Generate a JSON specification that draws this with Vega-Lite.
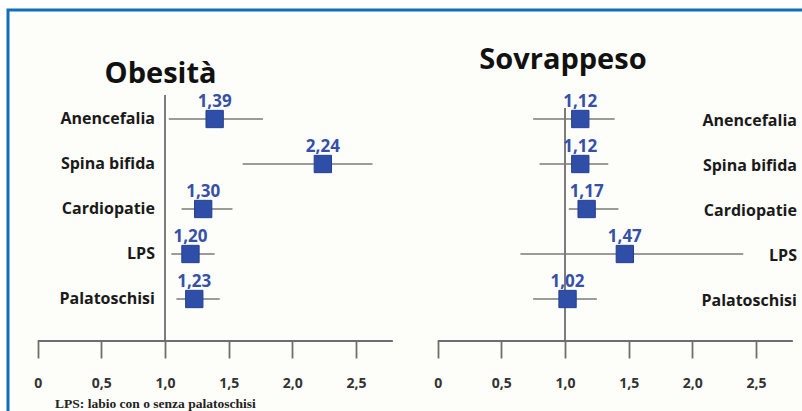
{
  "$schema": "https://vega.github.io/schema/vega-lite/v6.json",
  "width": 802,
  "height": 341,
  "autosize": "none",
  "padding": {"left": 0, "top": 0, "right": 0, "bottom": 70},
  "background": "#ffffff",
  "datasets": {
    "forest": [
      {"panel": "Obesità", "cat": "Anencefalia", "row": 1, "or": 1.39, "lo": 1.03, "hi": 1.77},
      {"panel": "Obesità", "cat": "Spina bifida", "row": 2, "or": 2.24, "lo": 1.61, "hi": 2.63},
      {"panel": "Obesità", "cat": "Cardiopatie", "row": 3, "or": 1.30, "lo": 1.13, "hi": 1.53},
      {"panel": "Obesità", "cat": "LPS", "row": 4, "or": 1.20, "lo": 1.05, "hi": 1.39},
      {"panel": "Obesità", "cat": "Palatoschisi", "row": 5, "or": 1.23, "lo": 1.09, "hi": 1.43},
      {"panel": "Sovrappeso", "cat": "Anencefalia", "row": 1, "or": 1.12, "lo": 0.75, "hi": 1.39},
      {"panel": "Sovrappeso", "cat": "Spina bifida", "row": 2, "or": 1.12, "lo": 0.80, "hi": 1.34},
      {"panel": "Sovrappeso", "cat": "Cardiopatie", "row": 3, "or": 1.17, "lo": 1.03, "hi": 1.42},
      {"panel": "Sovrappeso", "cat": "LPS", "row": 4, "or": 1.47, "lo": 0.65, "hi": 2.40},
      {"panel": "Sovrappeso", "cat": "Palatoschisi", "row": 5, "or": 1.02, "lo": 0.75, "hi": 1.25}
    ],
    "one": [{}]
  },
  "resolve": {"scale": {"x": "independent"}, "axis": {"x": "independent"}},
  "layer": [
    {
      "layer": [
        {
          "data": {"name": "one"},
          "mark": {"type": "rect", "fill": "#fdfdf9", "stroke": "#0e6fba", "strokeWidth": 3},
          "encoding": {
            "x": {"datum": -0.2333, "type": "quantitative", "scale": {"domain": [-0.2962, 6.0039], "nice": false, "zero": false}, "axis": {"orient": "bottom", "zindex": 1, "values": [0, 0.5, 1, 1.5, 2, 2.5], "format": ".1f", "labelExpr": "datum.value == 0 ? '0' : datum.label", "domain": false, "grid": false, "tickSize": 17, "tickWidth": 1.8, "tickColor": "#6e6e6e", "labelFont": "Open Sans", "labelFontWeight": "bold", "labelFontSize": 14, "labelColor": "#333333", "labelPadding": 18, "title": null, "labelFlush": false, "labelOverlap": false}},
            "x2": {"datum": 6.2},
            "y": {"datum": -1.4222, "type": "quantitative", "scale": {"domain": [-1.6444, 5.9333], "reverse": true, "nice": false, "zero": false}, "axis": null},
            "y2": {"datum": 8.5}
          }
        },
        {
          "data": {"name": "one"},
          "mark": {"type": "rule", "color": "#6e6e6e", "strokeWidth": 1.8},
          "encoding": {
            "x": {"datum": 1, "type": "quantitative", "scale": {"domain": [-0.2962, 6.0039], "nice": false, "zero": false}, "axis": {"orient": "bottom", "zindex": 1, "values": [0, 0.5, 1, 1.5, 2, 2.5], "format": ".1f", "labelExpr": "datum.value == 0 ? '0' : datum.label", "domain": false, "grid": false, "tickSize": 17, "tickWidth": 1.8, "tickColor": "#6e6e6e", "labelFont": "Open Sans", "labelFontWeight": "bold", "labelFontSize": 14, "labelColor": "#333333", "labelPadding": 18, "title": null, "labelFlush": false, "labelOverlap": false}},
            "y": {"datum": 0.467, "type": "quantitative", "scale": {"domain": [-1.6444, 5.9333], "reverse": true, "nice": false, "zero": false}, "axis": null},
            "y2": {"datum": 5.9333}
          }
        },
        {
          "data": {"name": "one"},
          "mark": {"type": "rule", "color": "#6e6e6e", "strokeWidth": 1.8},
          "encoding": {
            "x": {"datum": 0, "type": "quantitative", "scale": {"domain": [-0.2962, 6.0039], "nice": false, "zero": false}, "axis": {"orient": "bottom", "zindex": 1, "values": [0, 0.5, 1, 1.5, 2, 2.5], "format": ".1f", "labelExpr": "datum.value == 0 ? '0' : datum.label", "domain": false, "grid": false, "tickSize": 17, "tickWidth": 1.8, "tickColor": "#6e6e6e", "labelFont": "Open Sans", "labelFontWeight": "bold", "labelFontSize": 14, "labelColor": "#333333", "labelPadding": 18, "title": null, "labelFlush": false, "labelOverlap": false}},
            "x2": {"datum": 2.79},
            "y": {"datum": 5.9333, "type": "quantitative", "scale": {"domain": [-1.6444, 5.9333], "reverse": true, "nice": false, "zero": false}, "axis": null}
          }
        },
        {
          "data": {"name": "forest"},
          "transform": [{"filter": "datum.panel == 'Obesità'"}],
          "mark": {"type": "rule", "color": "#7a7a7a", "strokeWidth": 1.6},
          "encoding": {
            "x": {"field": "lo", "type": "quantitative", "scale": {"domain": [-0.2962, 6.0039], "nice": false, "zero": false}, "axis": {"orient": "bottom", "zindex": 1, "values": [0, 0.5, 1, 1.5, 2, 2.5], "format": ".1f", "labelExpr": "datum.value == 0 ? '0' : datum.label", "domain": false, "grid": false, "tickSize": 17, "tickWidth": 1.8, "tickColor": "#6e6e6e", "labelFont": "Open Sans", "labelFontWeight": "bold", "labelFontSize": 14, "labelColor": "#333333", "labelPadding": 18, "title": null, "labelFlush": false, "labelOverlap": false}},
            "x2": {"field": "hi"},
            "y": {"field": "row", "type": "quantitative", "scale": {"domain": [-1.6444, 5.9333], "reverse": true, "nice": false, "zero": false}, "axis": null}
          }
        },
        {
          "data": {"name": "forest"},
          "transform": [{"filter": "datum.panel == 'Obesità'"}],
          "mark": {"type": "point", "shape": "square", "filled": true, "size": 300, "color": "#2f4ea8", "stroke": "#243f8f", "strokeWidth": 1, "opacity": 1},
          "encoding": {
            "x": {"field": "or", "type": "quantitative", "scale": {"domain": [-0.2962, 6.0039], "nice": false, "zero": false}, "axis": {"orient": "bottom", "zindex": 1, "values": [0, 0.5, 1, 1.5, 2, 2.5], "format": ".1f", "labelExpr": "datum.value == 0 ? '0' : datum.label", "domain": false, "grid": false, "tickSize": 17, "tickWidth": 1.8, "tickColor": "#6e6e6e", "labelFont": "Open Sans", "labelFontWeight": "bold", "labelFontSize": 14, "labelColor": "#333333", "labelPadding": 18, "title": null, "labelFlush": false, "labelOverlap": false}},
            "y": {"field": "row", "type": "quantitative", "scale": {"domain": [-1.6444, 5.9333], "reverse": true, "nice": false, "zero": false}, "axis": null}
          }
        },
        {
          "data": {"name": "forest"},
          "transform": [{"filter": "datum.panel == 'Obesità'"}],
          "mark": {"type": "text", "font": "Open Sans", "fontWeight": "bold", "fontSize": 17, "color": "#3550a8", "baseline": "alphabetic", "align": "center", "dy": -12},
          "encoding": {
            "x": {"field": "or", "type": "quantitative", "scale": {"domain": [-0.2962, 6.0039], "nice": false, "zero": false}, "axis": {"orient": "bottom", "zindex": 1, "values": [0, 0.5, 1, 1.5, 2, 2.5], "format": ".1f", "labelExpr": "datum.value == 0 ? '0' : datum.label", "domain": false, "grid": false, "tickSize": 17, "tickWidth": 1.8, "tickColor": "#6e6e6e", "labelFont": "Open Sans", "labelFontWeight": "bold", "labelFontSize": 14, "labelColor": "#333333", "labelPadding": 18, "title": null, "labelFlush": false, "labelOverlap": false}},
            "y": {"field": "row", "type": "quantitative", "scale": {"domain": [-1.6444, 5.9333], "reverse": true, "nice": false, "zero": false}, "axis": null},
            "text": {"field": "or", "type": "quantitative", "format": ".2f"}
          }
        },
        {
          "data": {"name": "forest"},
          "transform": [{"filter": "datum.panel == 'Obesità'"}],
          "mark": {"type": "text", "font": "Open Sans", "fontWeight": "bold", "fontSize": 16, "color": "#1a1a1a", "baseline": "middle", "align": "right"},
          "encoding": {
            "x": {"datum": 0.921, "type": "quantitative", "scale": {"domain": [-0.2962, 6.0039], "nice": false, "zero": false}, "axis": {"orient": "bottom", "zindex": 1, "values": [0, 0.5, 1, 1.5, 2, 2.5], "format": ".1f", "labelExpr": "datum.value == 0 ? '0' : datum.label", "domain": false, "grid": false, "tickSize": 17, "tickWidth": 1.8, "tickColor": "#6e6e6e", "labelFont": "Open Sans", "labelFontWeight": "bold", "labelFontSize": 14, "labelColor": "#333333", "labelPadding": 18, "title": null, "labelFlush": false, "labelOverlap": false}},
            "y": {"field": "row", "type": "quantitative", "scale": {"domain": [-1.6444, 5.9333], "reverse": true, "nice": false, "zero": false}, "axis": null},
            "text": {"field": "cat", "type": "nominal"}
          }
        },
        {
          "data": {"name": "one"},
          "mark": {"type": "text", "text": "Obesità", "font": "Open Sans", "fontWeight": "bold", "fontSize": 29, "color": "#111111", "baseline": "alphabetic", "align": "center"},
          "encoding": {
            "x": {"datum": 0.965, "type": "quantitative", "scale": {"domain": [-0.2962, 6.0039], "nice": false, "zero": false}, "axis": {"orient": "bottom", "zindex": 1, "values": [0, 0.5, 1, 1.5, 2, 2.5], "format": ".1f", "labelExpr": "datum.value == 0 ? '0' : datum.label", "domain": false, "grid": false, "tickSize": 17, "tickWidth": 1.8, "tickColor": "#6e6e6e", "labelFont": "Open Sans", "labelFontWeight": "bold", "labelFontSize": 14, "labelColor": "#333333", "labelPadding": 18, "title": null, "labelFlush": false, "labelOverlap": false}},
            "y": {"datum": 0.193, "type": "quantitative", "scale": {"domain": [-1.6444, 5.9333], "reverse": true, "nice": false, "zero": false}, "axis": null}
          }
        },
        {
          "data": {"name": "one"},
          "mark": {"type": "text", "text": "LPS: labio con o senza palatoschisi", "font": "Liberation Serif", "fontWeight": "bold", "fontSize": 13.5, "color": "#222222", "baseline": "alphabetic", "align": "left"},
          "encoding": {
            "x": {"datum": 0.136, "type": "quantitative", "scale": {"domain": [-0.2962, 6.0039], "nice": false, "zero": false}, "axis": {"orient": "bottom", "zindex": 1, "values": [0, 0.5, 1, 1.5, 2, 2.5], "format": ".1f", "labelExpr": "datum.value == 0 ? '0' : datum.label", "domain": false, "grid": false, "tickSize": 17, "tickWidth": 1.8, "tickColor": "#6e6e6e", "labelFont": "Open Sans", "labelFontWeight": "bold", "labelFontSize": 14, "labelColor": "#333333", "labelPadding": 18, "title": null, "labelFlush": false, "labelOverlap": false}},
            "y": {"datum": 7.43, "type": "quantitative", "scale": {"domain": [-1.6444, 5.9333], "reverse": true, "nice": false, "zero": false}, "axis": null}
          }
        }
      ]
    },
    {
      "layer": [
        {
          "data": {"name": "one"},
          "mark": {"type": "rule", "color": "#6e6e6e", "strokeWidth": 1.8},
          "encoding": {
            "x": {"datum": 1, "type": "quantitative", "scale": {"domain": [-3.4383, 2.8617], "nice": false, "zero": false}, "axis": {"orient": "bottom", "zindex": 1, "values": [0, 0.5, 1, 1.5, 2, 2.5], "format": ".1f", "labelExpr": "datum.value == 0 ? '0' : datum.label", "domain": false, "grid": false, "tickSize": 17, "tickWidth": 1.8, "tickColor": "#6e6e6e", "labelFont": "Open Sans", "labelFontWeight": "bold", "labelFontSize": 14, "labelColor": "#333333", "labelPadding": 18, "title": null, "labelFlush": false, "labelOverlap": false}},
            "y": {"datum": 0.756, "type": "quantitative", "scale": {"domain": [-1.6444, 5.9333], "reverse": true, "nice": false, "zero": false}, "axis": null},
            "y2": {"datum": 5.9333}
          }
        },
        {
          "data": {"name": "one"},
          "mark": {"type": "rule", "color": "#6e6e6e", "strokeWidth": 1.8},
          "encoding": {
            "x": {"datum": 0, "type": "quantitative", "scale": {"domain": [-3.4383, 2.8617], "nice": false, "zero": false}, "axis": {"orient": "bottom", "zindex": 1, "values": [0, 0.5, 1, 1.5, 2, 2.5], "format": ".1f", "labelExpr": "datum.value == 0 ? '0' : datum.label", "domain": false, "grid": false, "tickSize": 17, "tickWidth": 1.8, "tickColor": "#6e6e6e", "labelFont": "Open Sans", "labelFontWeight": "bold", "labelFontSize": 14, "labelColor": "#333333", "labelPadding": 18, "title": null, "labelFlush": false, "labelOverlap": false}},
            "x2": {"datum": 2.79},
            "y": {"datum": 5.9333, "type": "quantitative", "scale": {"domain": [-1.6444, 5.9333], "reverse": true, "nice": false, "zero": false}, "axis": null}
          }
        },
        {
          "data": {"name": "forest"},
          "transform": [{"filter": "datum.panel == 'Sovrappeso'"}],
          "mark": {"type": "rule", "color": "#7a7a7a", "strokeWidth": 1.6},
          "encoding": {
            "x": {"field": "lo", "type": "quantitative", "scale": {"domain": [-3.4383, 2.8617], "nice": false, "zero": false}, "axis": {"orient": "bottom", "zindex": 1, "values": [0, 0.5, 1, 1.5, 2, 2.5], "format": ".1f", "labelExpr": "datum.value == 0 ? '0' : datum.label", "domain": false, "grid": false, "tickSize": 17, "tickWidth": 1.8, "tickColor": "#6e6e6e", "labelFont": "Open Sans", "labelFontWeight": "bold", "labelFontSize": 14, "labelColor": "#333333", "labelPadding": 18, "title": null, "labelFlush": false, "labelOverlap": false}},
            "x2": {"field": "hi"},
            "y": {"field": "row", "type": "quantitative", "scale": {"domain": [-1.6444, 5.9333], "reverse": true, "nice": false, "zero": false}, "axis": null}
          }
        },
        {
          "data": {"name": "forest"},
          "transform": [{"filter": "datum.panel == 'Sovrappeso'"}],
          "mark": {"type": "point", "shape": "square", "filled": true, "size": 300, "color": "#2f4ea8", "stroke": "#243f8f", "strokeWidth": 1, "opacity": 1},
          "encoding": {
            "x": {"field": "or", "type": "quantitative", "scale": {"domain": [-3.4383, 2.8617], "nice": false, "zero": false}, "axis": {"orient": "bottom", "zindex": 1, "values": [0, 0.5, 1, 1.5, 2, 2.5], "format": ".1f", "labelExpr": "datum.value == 0 ? '0' : datum.label", "domain": false, "grid": false, "tickSize": 17, "tickWidth": 1.8, "tickColor": "#6e6e6e", "labelFont": "Open Sans", "labelFontWeight": "bold", "labelFontSize": 14, "labelColor": "#333333", "labelPadding": 18, "title": null, "labelFlush": false, "labelOverlap": false}},
            "y": {"field": "row", "type": "quantitative", "scale": {"domain": [-1.6444, 5.9333], "reverse": true, "nice": false, "zero": false}, "axis": null}
          }
        },
        {
          "data": {"name": "forest"},
          "transform": [{"filter": "datum.panel == 'Sovrappeso'"}],
          "mark": {"type": "text", "font": "Open Sans", "fontWeight": "bold", "fontSize": 17, "color": "#3550a8", "baseline": "alphabetic", "align": "center", "dy": -12},
          "encoding": {
            "x": {"field": "or", "type": "quantitative", "scale": {"domain": [-3.4383, 2.8617], "nice": false, "zero": false}, "axis": {"orient": "bottom", "zindex": 1, "values": [0, 0.5, 1, 1.5, 2, 2.5], "format": ".1f", "labelExpr": "datum.value == 0 ? '0' : datum.label", "domain": false, "grid": false, "tickSize": 17, "tickWidth": 1.8, "tickColor": "#6e6e6e", "labelFont": "Open Sans", "labelFontWeight": "bold", "labelFontSize": 14, "labelColor": "#333333", "labelPadding": 18, "title": null, "labelFlush": false, "labelOverlap": false}},
            "y": {"field": "row", "type": "quantitative", "scale": {"domain": [-1.6444, 5.9333], "reverse": true, "nice": false, "zero": false}, "axis": null},
            "text": {"field": "or", "type": "quantitative", "format": ".2f"}
          }
        },
        {
          "data": {"name": "forest"},
          "transform": [{"filter": "datum.panel == 'Sovrappeso'"}],
          "mark": {"type": "text", "font": "Open Sans", "fontWeight": "bold", "fontSize": 16, "color": "#1a1a1a", "baseline": "middle", "align": "right", "dy": 2},
          "encoding": {
            "x": {"datum": 2.822, "type": "quantitative", "scale": {"domain": [-3.4383, 2.8617], "nice": false, "zero": false}, "axis": {"orient": "bottom", "zindex": 1, "values": [0, 0.5, 1, 1.5, 2, 2.5], "format": ".1f", "labelExpr": "datum.value == 0 ? '0' : datum.label", "domain": false, "grid": false, "tickSize": 17, "tickWidth": 1.8, "tickColor": "#6e6e6e", "labelFont": "Open Sans", "labelFontWeight": "bold", "labelFontSize": 14, "labelColor": "#333333", "labelPadding": 18, "title": null, "labelFlush": false, "labelOverlap": false}},
            "y": {"field": "row", "type": "quantitative", "scale": {"domain": [-1.6444, 5.9333], "reverse": true, "nice": false, "zero": false}, "axis": null},
            "text": {"field": "cat", "type": "nominal"}
          }
        },
        {
          "data": {"name": "one"},
          "mark": {"type": "text", "text": "Sovrappeso", "font": "Open Sans", "fontWeight": "bold", "fontSize": 29, "color": "#111111", "baseline": "alphabetic", "align": "center"},
          "encoding": {
            "x": {"datum": 0.984, "type": "quantitative", "scale": {"domain": [-3.4383, 2.8617], "nice": false, "zero": false}, "axis": {"orient": "bottom", "zindex": 1, "values": [0, 0.5, 1, 1.5, 2, 2.5], "format": ".1f", "labelExpr": "datum.value == 0 ? '0' : datum.label", "domain": false, "grid": false, "tickSize": 17, "tickWidth": 1.8, "tickColor": "#6e6e6e", "labelFont": "Open Sans", "labelFontWeight": "bold", "labelFontSize": 14, "labelColor": "#333333", "labelPadding": 18, "title": null, "labelFlush": false, "labelOverlap": false}},
            "y": {"datum": -0.111, "type": "quantitative", "scale": {"domain": [-1.6444, 5.9333], "reverse": true, "nice": false, "zero": false}, "axis": null}
          }
        }
      ]
    }
  ],
  "config": {
    "view": {"stroke": null},
    "locale": {"number": {"decimal": ",", "thousands": ".", "grouping": [3], "currency": ["", " €"]}}
  }
}
